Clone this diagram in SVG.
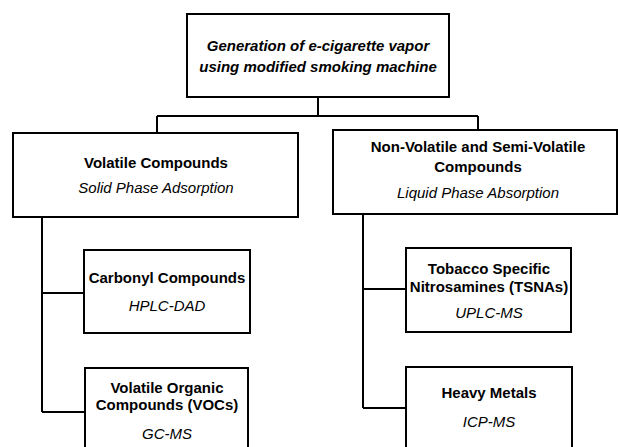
<svg xmlns="http://www.w3.org/2000/svg" width="618" height="447" viewBox="0 0 618 447">
<style>
.box{fill:#fff;stroke:#000;stroke-width:2}
.con{fill:none;stroke:#000;stroke-width:2}
text{font-family:"Liberation Sans",Arial,sans-serif;font-size:15px;fill:#000;text-anchor:middle}
.b{font-weight:bold}
.i{font-style:italic}
.bi{font-weight:bold;font-style:italic}
</style>
<rect width="618" height="447" fill="#fff"/>
<g id="connectors">
<path class="con" d="M318 97V116M157 116H478M157 116V133M478 116V130"/>
<path class="con" d="M42 217V412M42 293H84M42 412H85"/>
<path class="con" d="M363 214V408M363 289H406M363 408H406"/>
</g>
<g id="top">
<rect class="box" x="187" y="14" width="262" height="83"/>
<text class="bi" x="318" y="51">Generation of e-cigarette vapor</text>
<text class="bi" x="318" y="72">using modified smoking machine</text>
</g>
<g id="volatile">
<rect class="box" x="13" y="133" width="285" height="84"/>
<text class="b" x="156" y="168">Volatile Compounds</text>
<text class="i" x="156" y="193">Solid Phase Adsorption</text>
</g>
<g id="nonvolatile">
<rect class="box" x="333" y="130" width="284" height="84"/>
<text class="b" x="478" y="152">Non-Volatile and Semi-Volatile</text>
<text class="b" x="478" y="172">Compounds</text>
<text class="i" x="478" y="198">Liquid Phase Absorption</text>
</g>
<g id="carbonyl">
<rect class="box" x="84" y="250" width="166" height="83"/>
<text class="b" x="167" y="283">Carbonyl Compounds</text>
<text class="i" x="167" y="311">HPLC-DAD</text>
</g>
<g id="voc">
<rect class="box" x="85" y="368" width="163" height="90"/>
<text class="b" x="167" y="393">Volatile Organic</text>
<text class="b" x="167" y="410">Compounds (VOCs)</text>
<text class="i" x="167" y="439">GC-MS</text>
</g>
<g id="tsna">
<rect class="box" x="406" y="248" width="165" height="84"/>
<text class="b" x="489" y="274">Tobacco Specific</text>
<text class="b" x="489" y="292">Nitrosamines (TSNAs)</text>
<text class="i" x="489" y="318">UPLC-MS</text>
</g>
<g id="metals">
<rect class="box" x="406" y="367" width="166" height="90"/>
<text class="b" x="489" y="398">Heavy Metals</text>
<text class="i" x="489" y="427">ICP-MS</text>
</g>
</svg>
